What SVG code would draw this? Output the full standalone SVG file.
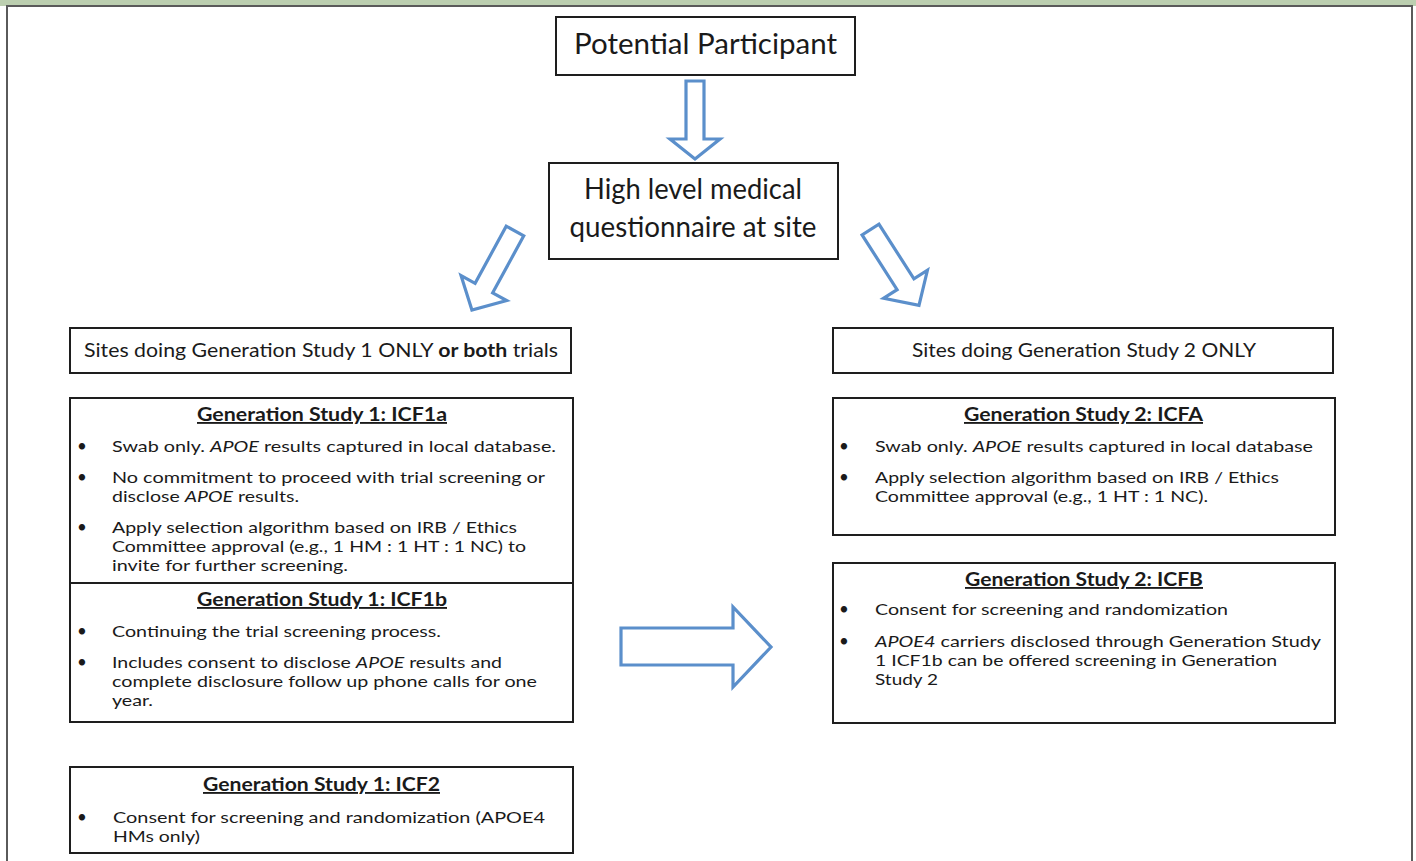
<svg xmlns="http://www.w3.org/2000/svg" width="1416" height="861" viewBox="0 0 1416 861">
<style>
.box{fill:#fff;stroke:#1e1e1e;stroke-width:2}
.arr{fill:#fff;stroke:#5b8fcb;stroke-width:3.2;stroke-linejoin:miter}
text{font-family:Lato,"Liberation Sans",sans-serif;fill:#1a1a1a}
.big{font-size:28px}
.site{font-size:19px}
.h{font-size:18.5px;font-weight:bold;text-decoration:underline}
.b{font-size:15.8px}
.dot{font-size:17px}
</style>
<rect x="0" y="0" width="1416" height="6" fill="#bccfb0"/>
<path d="M7,861 V6 H1412 V861" fill="none" stroke="#5a5a5a" stroke-width="2"/>

<g id="connectors">
<polygon class="arr" points="686,81 704,81 704,139 720,139 695,159 670,139 686,139"/>
<polygon class="arr" transform="translate(515,231) rotate(118.6)" points="0,-10 65,-10 65,-26 90,0 65,26 65,10 0,10"/>
<polygon class="arr" transform="translate(870.5,229.5) rotate(57.4)" points="0,-10 65,-10 65,-26 90,0 65,26 65,10 0,10"/>
<polygon class="arr" points="621,628 733,628 733,607 771,647 733,687 733,665 621,665"/>
</g>

<g id="potential">
<rect class="box" x="556" y="17" width="299" height="58"/>
<text class="big" x="705.5" y="54" text-anchor="middle" textLength="263" lengthAdjust="spacingAndGlyphs">Potential Participant</text>
</g>

<g id="questionnaire">
<rect class="box" x="549" y="163" width="289" height="96"/>
<text class="big" x="693" y="199" text-anchor="middle" textLength="218" lengthAdjust="spacingAndGlyphs">High level medical</text>
<text class="big" x="693" y="237" text-anchor="middle" textLength="247" lengthAdjust="spacingAndGlyphs">questionnaire at site</text>
</g>

<g id="site1">
<rect class="box" x="70" y="328" width="501" height="45"/>
<text class="site" x="84" y="357" textLength="474" lengthAdjust="spacingAndGlyphs">Sites doing Generation Study 1 ONLY <tspan font-weight="bold">or both</tspan> trials</text>
</g>

<g id="site2">
<rect class="box" x="833" y="328" width="500" height="45"/>
<text class="site" x="1084" y="357" text-anchor="middle" textLength="344" lengthAdjust="spacingAndGlyphs">Sites doing Generation Study 2 ONLY</text>
</g>

<g id="icf1a">
<rect class="box" x="70" y="398" width="503" height="185"/>
<text class="h" x="322" y="421" text-anchor="middle" textLength="250" lengthAdjust="spacingAndGlyphs">Generation Study 1: ICF1a</text>
<text class="dot" x="82" y="452" text-anchor="middle">•</text>
<text class="b" x="112" y="452" textLength="444" lengthAdjust="spacingAndGlyphs">Swab only. <tspan font-style="italic">APOE</tspan> results captured in local database.</text>
<text class="dot" x="82" y="483" text-anchor="middle">•</text>
<text class="b" x="112" y="483" textLength="433" lengthAdjust="spacingAndGlyphs">No commitment to proceed with trial screening or</text>
<text class="b" x="112" y="502" textLength="187" lengthAdjust="spacingAndGlyphs">disclose <tspan font-style="italic">APOE</tspan> results.</text>
<text class="dot" x="82" y="533" text-anchor="middle">•</text>
<text class="b" x="112" y="533" textLength="405" lengthAdjust="spacingAndGlyphs">Apply selection algorithm based on IRB / Ethics</text>
<text class="b" x="112" y="552" textLength="414" lengthAdjust="spacingAndGlyphs">Committee approval (e.g., 1 HM : 1 HT : 1 NC) to</text>
<text class="b" x="112" y="571" textLength="236" lengthAdjust="spacingAndGlyphs">invite for further screening.</text>
</g>

<g id="icf1b">
<rect class="box" x="70" y="583" width="503" height="139"/>
<text class="h" x="322" y="606" text-anchor="middle" textLength="250" lengthAdjust="spacingAndGlyphs">Generation Study 1: ICF1b</text>
<text class="dot" x="82" y="637" text-anchor="middle">•</text>
<text class="b" x="112" y="637" textLength="329" lengthAdjust="spacingAndGlyphs">Continuing the trial screening process.</text>
<text class="dot" x="82" y="668" text-anchor="middle">•</text>
<text class="b" x="112" y="668" textLength="390" lengthAdjust="spacingAndGlyphs">Includes consent to disclose <tspan font-style="italic">APOE</tspan> results and</text>
<text class="b" x="112" y="687" textLength="425" lengthAdjust="spacingAndGlyphs">complete disclosure follow up phone calls for one</text>
<text class="b" x="112" y="706" textLength="41" lengthAdjust="spacingAndGlyphs">year.</text>
</g>

<g id="icf2">
<rect class="box" x="70" y="767" width="503" height="86"/>
<text class="h" x="321.5" y="791" text-anchor="middle" textLength="237" lengthAdjust="spacingAndGlyphs">Generation Study 1: ICF2</text>
<text class="dot" x="82" y="823" text-anchor="middle">•</text>
<text class="b" x="113" y="823" textLength="432" lengthAdjust="spacingAndGlyphs">Consent for screening and randomization (APOE4</text>
<text class="b" x="113" y="842" textLength="87" lengthAdjust="spacingAndGlyphs">HMs only)</text>
</g>

<g id="icfa">
<rect class="box" x="833" y="398" width="502" height="137"/>
<text class="h" x="1083.5" y="421" text-anchor="middle" textLength="239" lengthAdjust="spacingAndGlyphs">Generation Study 2: ICFA</text>
<text class="dot" x="844" y="452" text-anchor="middle">•</text>
<text class="b" x="875" y="452" textLength="438" lengthAdjust="spacingAndGlyphs">Swab only. <tspan font-style="italic">APOE</tspan> results captured in local database</text>
<text class="dot" x="844" y="483" text-anchor="middle">•</text>
<text class="b" x="875" y="483" textLength="404" lengthAdjust="spacingAndGlyphs">Apply selection algorithm based on IRB / Ethics</text>
<text class="b" x="875" y="502" textLength="333" lengthAdjust="spacingAndGlyphs">Committee approval (e.g., 1 HT : 1 NC).</text>
</g>

<g id="icfb">
<rect class="box" x="833" y="563" width="502" height="160"/>
<text class="h" x="1084" y="586" text-anchor="middle" textLength="238" lengthAdjust="spacingAndGlyphs">Generation Study 2: ICFB</text>
<text class="dot" x="844" y="615" text-anchor="middle">•</text>
<text class="b" x="875" y="615" textLength="353" lengthAdjust="spacingAndGlyphs">Consent for screening and randomization</text>
<text class="dot" x="844" y="647" text-anchor="middle">•</text>
<text class="b" x="875" y="647" textLength="446" lengthAdjust="spacingAndGlyphs"><tspan font-style="italic">APOE4</tspan>  carriers disclosed through Generation Study</text>
<text class="b" x="875" y="666" textLength="402" lengthAdjust="spacingAndGlyphs">1 ICF1b can be offered screening in Generation</text>
<text class="b" x="875" y="685" textLength="63" lengthAdjust="spacingAndGlyphs">Study 2</text>
</g>
</svg>
